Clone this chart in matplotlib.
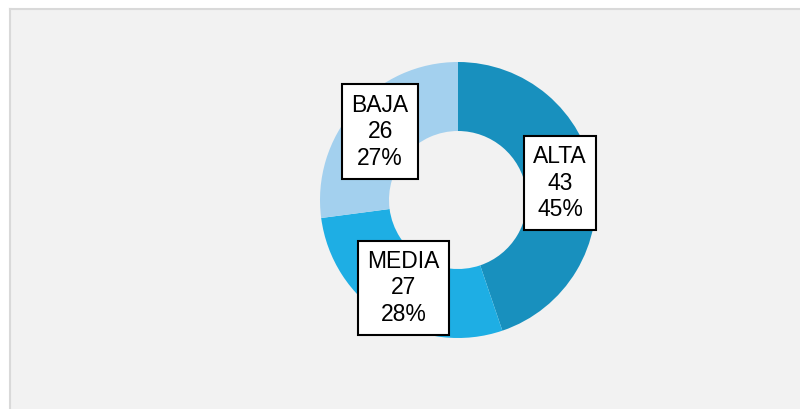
import matplotlib.pyplot as plt
import numpy as np

# datos del grafico
categorias = ['ALTA', 'MEDIA', 'BAJA']
valores = [43, 27, 26]
colores = ['#1890be', '#1eaee4', '#a3d0ee']

plt.rcParams['font.family'] = ['Liberation Sans', 'DejaVu Sans']

fig = plt.figure(figsize=(8, 4.09), dpi=100)
fig.patch.set_facecolor('white')

# panel gris con borde a la izquierda y arriba
bg = fig.add_axes([9.5 / 800, -0.01, 1.0, 0.01 + 400.5 / 409])
bg.set_facecolor('#f2f2f2')
bg.set_xticks([])
bg.set_yticks([])
for lado in ['right', 'bottom']:
    bg.spines[lado].set_visible(False)
for lado in ['left', 'top']:
    bg.spines[lado].set_color('#d9d9d9')
    bg.spines[lado].set_linewidth(1.5)
bg.set_zorder(-1)

ax = fig.add_axes([0.4, 71 / 409, 276 / 800, 276 / 409])
ax.set_facecolor('none')

total = sum(valores)

wedges, textos = ax.pie(valores, colors=colores, startangle=90, counterclock=False,
                        wedgeprops=dict(width=0.5, linewidth=0))

# etiquetas en el centro del anillo
for w, cat, v in zip(wedges, categorias, valores):
    ang = np.deg2rad((w.theta1 + w.theta2) / 2)
    x, y = 0.75 * np.cos(ang), 0.75 * np.sin(ang)
    ax.text(x, y, f"{cat}\n{v}\n{v / total * 100:.0f}%", fontsize=16.5, ha='center', va='center',
            linespacing=1.2, zorder=10,
            bbox=dict(boxstyle='square,pad=0.4', facecolor='white', edgecolor='black', linewidth=1.5))

ax.set_xlim(-1, 1)
ax.set_ylim(-1, 1)
ax.set_aspect('equal')
ax.axis('off')

plt.savefig('out.png', dpi=100)
